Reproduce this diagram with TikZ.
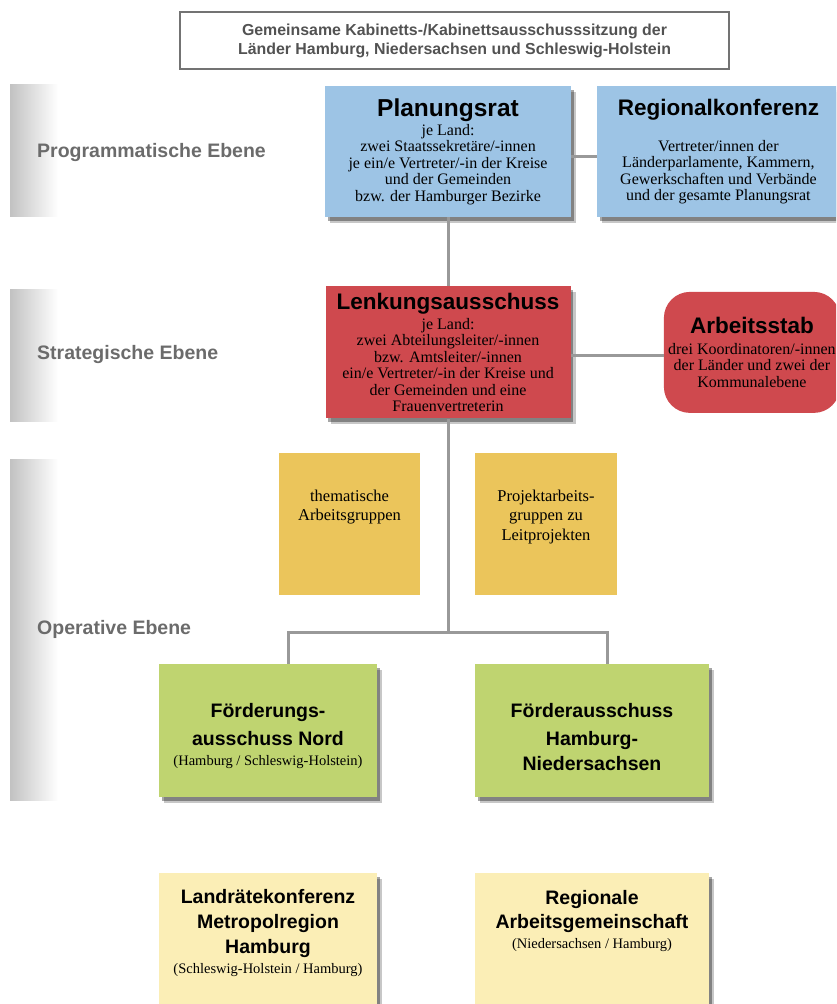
\documentclass[tikz,border=0pt]{standalone}
\usepackage{fontspec}
\setmainfont{Liberation Serif}
\setsansfont{Liberation Sans}
\usepackage{tikz}
\usetikzlibrary{positioning}
\usetikzlibrary{shadows}
\definecolor{blau}{RGB}{157,196,229}
\definecolor{rot}{RGB}{207,73,78}
\definecolor{ocker}{RGB}{235,197,91}
\definecolor{gruen}{RGB}{191,212,112}
\definecolor{hellgelb}{RGB}{251,238,182}
\newcommand{\titelgross}{\fontsize{22.5}{26}\selectfont\sffamily\bfseries}
\newcommand{\titelklein}{\fontsize{19.5}{23}\selectfont\sffamily\bfseries}
\newcommand{\klein}{\fontsize{16}{16.5}\selectfont\rmfamily}
\newcommand{\mittel}{\fontsize{16.5}{19.5}\selectfont\rmfamily}
\newcommand{\unterzeile}{\fontsize{14.5}{16.5}\selectfont\rmfamily}
\tikzset{kasten/.style={inner sep=0pt, align=center, font=\klein}}
\tikzset{schatten/.style={drop shadow={shadow xshift=5pt, shadow yshift=-6pt, opacity=.22, fill=black}, drop shadow={shadow xshift=2.5pt, shadow yshift=-3.5pt, opacity=.35, fill=black}}}
\tikzset{rahmen/.style={draw=black!55, line width=1.2pt, inner sep=0pt, align=center, text=black!68, font=\fontsize{15.9}{19}\selectfont\sffamily\bfseries}}
\tikzset{ebene/.style={anchor=west, inner sep=0pt, text=black!58, font=\fontsize{19.5}{22}\selectfont\sffamily\bfseries}}
\tikzset{balken/.style={left color=black!24, right color=white}}
\tikzset{linie/.style={draw=black!40, line width=3pt}}

\begin{document}
\begin{tikzpicture}[x=1pt, y=-1pt]
\useasboundingbox (0,0) rectangle (836,1004);
\clip (0,0) rectangle (836,1004);

\shade[balken] (10,84) rectangle (58,216);
\shade[balken] (10,289) rectangle (58,421);
\shade[balken] (10,459) rectangle (58,800);
\node[ebene] (prog) at (37,152) {Programmatische Ebene};
\node[ebene] (strat) at (37,354) {Strategische Ebene};
\node[ebene] (oper) at (37,629) {Operative Ebene};

\node[rahmen, minimum width=549pt, minimum height=57pt] (sitzung) at (454.5,40.5) {Gemeinsame Kabinetts-/Kabinettsausschusssitzung der\\Länder Hamburg, Niedersachsen und Schleswig-Holstein};

\node[kasten, schatten, fill=blau, minimum width=246pt, minimum height=131pt] (planung) at (448,151.5) {{\fontsize{24.5}{28}\selectfont\sffamily\bfseries Planungsrat}\\[2.5pt]je Land:\\zwei Staatssekretäre/-innen\\je ein/e Vertreter/-in der Kreise\\und der Gemeinden\\bzw. der Hamburger Bezirke};
\node[kasten, schatten, fill=blau, minimum width=242pt, minimum height=131pt, right=26pt of planung] (regional) {{\titelgross Regionalkonferenz}\\[19.5pt]Vertreter/innen der\\Länderparlamente, Kammern,\\Gewerkschaften und Verbände\\und der gesamte Planungsrat};
\node[kasten, schatten, fill=rot, minimum width=245pt, minimum height=132pt, below=69pt of planung] (lenkung) {{\titelgross Lenkungsausschuss}\\[3.5pt]je Land:\\zwei Abteilungsleiter/-innen\\bzw. Amtsleiter/-innen\\ein/e Vertreter/-in der Kreise und\\der Gemeinden und eine\\Frauenvertreterin};
\node[kasten, fill=rot, rounded corners=26pt, minimum width=176pt, minimum height=121pt, right=93pt of lenkung] (stab) {{\titelgross Arbeitsstab}\\[4.5pt]drei Koordinatoren/-innen\\der Länder und zwei der\\Kommunalebene};

\node[kasten, fill=ocker, font=\mittel, minimum width=141pt, minimum height=142pt, text depth=37pt] (thema) at (349.5,524) {thematische\\Arbeitsgruppen};
\node[kasten, fill=ocker, font=\mittel, minimum width=142pt, minimum height=142pt, text depth=18pt] (projekt) at (546,524) {Projektarbeits-\\gruppen zu\\Leitprojekten};

\node[kasten, schatten, fill=gruen, minimum width=218pt, minimum height=133pt, text height=73.5pt] (nord) at (268,730.5) {{\titelklein Förderungs-}\\[8pt]{\titelklein ausschuss Nord}\\[4pt]{\unterzeile (Hamburg / Schleswig-Holstein)}};
\node[kasten, schatten, fill=gruen, minimum width=234pt, minimum height=133pt, text height=80pt, text depth=0pt] (hhnds) at (592,730.5) {{\titelklein Förderausschuss}\\[11pt]{\titelklein Hamburg-}\\[6pt]{\titelklein Niedersachsen}};

\node[kasten, schatten, fill=hellgelb, minimum width=218pt, minimum height=140pt, text depth=23pt] (landraete) at (268,943) {{\titelklein Landrätekonferenz}\\[8pt]{\titelklein Metropolregion}\\[6pt]{\titelklein Hamburg}\\[3.5pt]{\unterzeile (Schleswig-Holstein / Hamburg)}};
\node[kasten, schatten, fill=hellgelb, minimum width=234pt, minimum height=140pt, text depth=47pt] (arge) at (592,943) {{\titelklein Regionale}\\[5pt]{\titelklein Arbeitsgemeinschaft}\\[3.5pt]{\unterzeile (Niedersachsen / Hamburg)}};

\coordinate (knoten) at (448,632);
\coordinate[left=160pt of knoten] (links);
\coordinate[right=159pt of knoten] (rechts);

\draw[linie] ([yshift=-5pt]planung.east) -- ([yshift=-5pt]regional.west);
\draw[linie] (planung.south) -- (lenkung.north);
\draw[linie] ([yshift=-3pt]lenkung.east) -- ([yshift=-3pt]stab.west);
\draw[linie] (lenkung.south) -- (knoten);
\draw[linie] (links |- nord.north) -- (links) -- (rechts) -- (rechts |- hhnds.north);
\end{tikzpicture}
\end{document}
